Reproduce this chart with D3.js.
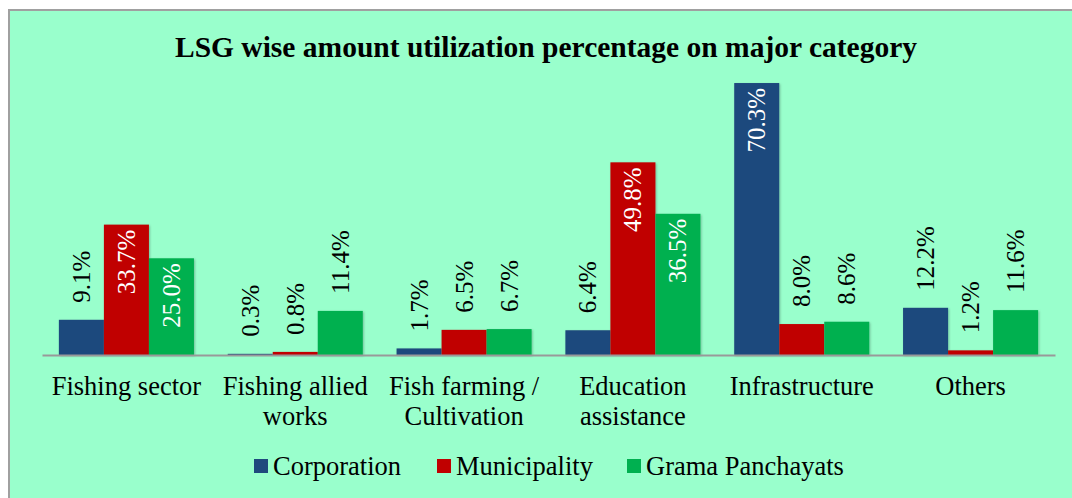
<!DOCTYPE html>
<meta charset="utf-8">
<style>
body { margin: 0; background: #fff; }
</style>
<svg width="1072" height="498" font-family="'Liberation Serif', 'Times New Roman', Tinos, serif"></svg>
<script src="https://d3js.org/d3.v7.min.js"></script>
<script>

var categories = [["Fishing sector"], ["Fishing allied", "works"], ["Fish farming /", "Cultivation"],
                  ["Education", "assistance"], ["Infrastructure"], ["Others"]];
var seriesNames = ["Corporation", "Municipality", "Grama Panchayats"];
var corporation = [9.1, 0.3, 1.7, 6.4, 70.3, 12.2];
var municipality = [33.7, 0.8, 6.5, 49.8, 8.0, 1.2];
var gramaPanchayats = [25.0, 11.4, 6.7, 36.5, 8.6, 11.6];
var colors = ["#1f497d", "#c00000", "#00b050"];

var svg = d3.select("svg"),
    width = +svg.attr("width"),
    height = +svg.attr("height");

// chart area background + border
svg.append("rect")
    .attr("x", 9).attr("y", 10)
    .attr("width", width + 20).attr("height", height + 20)
    .attr("fill", "#99ffcc")
    .attr("stroke", "#a0a0a0")
    .attr("stroke-width", 2);

svg.append("text")
    .attr("x", 546).attr("y", 57)
    .attr("text-anchor", "middle")
    .style("font-weight", "bold")
    .style("font-size", "29.5px")
    .text("LSG wise amount utilization percentage on major category");

var defs = svg.append("defs");
defs.append("filter").attr("id", "shadow")
    .attr("x", "-20%").attr("y", "-20%").attr("width", "140%").attr("height", "140%")
  .append("feDropShadow")
    .attr("dx", 1).attr("dy", 1).attr("stdDeviation", 1.2)
    .attr("flood-color", "#000").attr("flood-opacity", 0.25);

var x0 = d3.scaleBand()
    .domain(d3.range(categories.length))
    .range([42, 1055])
    .paddingInner(0.2)
    .paddingOuter(0.1);

var x1 = d3.scaleBand()
    .domain(d3.range(seriesNames.length))
    .range([0, x0.bandwidth()]);

var y = d3.scaleLinear()
    .domain([0, 80])
    .range([355, 45.5]);

var rows = categories.map(function(c, i) {
  return [corporation[i], municipality[i], gramaPanchayats[i]];
});

var groups = svg.append("g").selectAll("g")
    .data(rows)
    .enter().append("g")
      .attr("transform", function(d, i) { return "translate(" + x0(i) + ",0)"; });

groups.selectAll("rect")
    .data(function(d) { return d; })
    .enter().append("rect")
      .attr("x", function(d, j) { return x1(j); })
      .attr("y", function(d) { return y(d); })
      .attr("width", x1.bandwidth())
      .attr("height", function(d) { return y(0) - y(d); })
      .attr("fill", function(d, j) { return colors[j]; })
      .attr("filter", "url(#shadow)");

// data labels: inside end (white) if the bar is tall enough, otherwise outside end
groups.selectAll("text")
    .data(function(d) { return d; })
    .enter().append("text")
      .style("font-size", "25px")
      .attr("dominant-baseline", "central")
      .attr("text-anchor", function(d) { return d > 20 ? "end" : "start"; })
      .attr("fill", function(d) { return d > 20 ? "#fff" : "#000"; })
      .attr("transform", function(d, j) {
        var cx = x1(j) + x1.bandwidth() / 2;
        var ty = d > 20 ? y(d) + 5 : y(d) - 17;
        return "translate(" + cx + "," + ty + ") rotate(-90)";
      })
      .text(function(d) { return d.toFixed(1) + "%"; });

// axis
var axis = svg.append("g")
    .attr("transform", "translate(0," + y(0) + ")")
    .call(d3.axisBottom(x0).tickSize(0).tickFormat(""));
axis.select(".domain").attr("stroke", "#999").attr("stroke-width", 2);

svg.append("g").selectAll("text")
    .data(categories)
    .enter().append("text")
      .attr("x", function(d, i) { return x0(i) + x0.bandwidth() / 2; })
      .attr("y", 395)
      .attr("text-anchor", "middle")
      .style("font-size", "26.5px")
    .selectAll("tspan")
    .data(function(d) { return d; })
    .enter().append("tspan")
      .attr("x", function() { return this.parentNode.getAttribute("x"); })
      .attr("dy", function(d, k) { return k ? 30 : 0; })
      .text(function(d) { return d; });

// legend
var legendX = [254, 437, 627];
var legend = svg.append("g").selectAll("g")
    .data(seriesNames)
    .enter().append("g")
      .attr("transform", function(d, i) { return "translate(" + legendX[i] + ",0)"; });
legend.append("rect")
    .attr("y", 459).attr("width", 14).attr("height", 14)
    .attr("fill", function(d, i) { return colors[i]; });
legend.append("text")
    .attr("x", 19).attr("y", 475)
    .style("font-size", "26.5px")
    .text(function(d) { return d; });

</script>
